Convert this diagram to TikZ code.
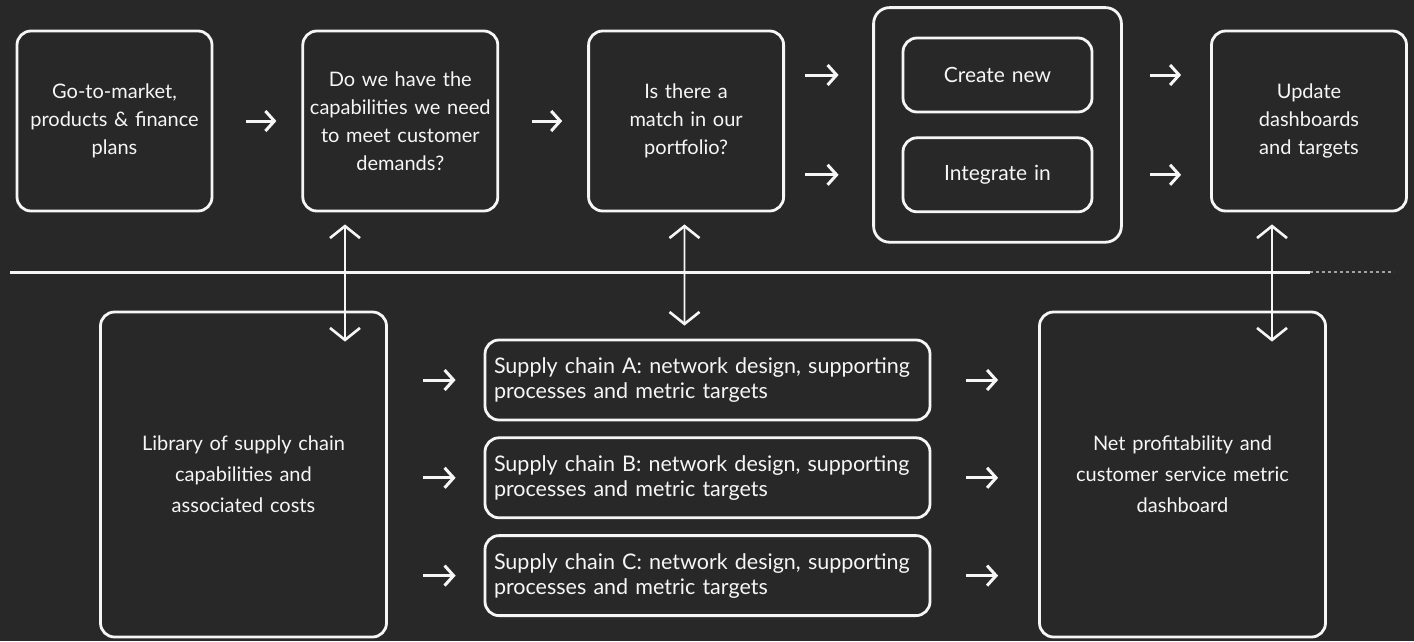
\documentclass[tikz,border=0pt]{standalone}
\usepackage{fontspec}
\setmainfont{Lato}
\usetikzlibrary{arrows.meta,positioning,fit}

\definecolor{board}{RGB}{40,40,40}
\definecolor{chalk}{RGB}{246,246,246}

\begin{document}
\begin{tikzpicture}[x=1pt,y=-1pt,node distance=88pt]
  \tikzstyle{box}=[draw=chalk,line width=2.8pt,rounded corners=14pt,text=chalk,
    align=center,font=\fontsize{20}{28}\selectfont]
  \tikzstyle{topbox}=[box,minimum width=195pt,minimum height=180pt,text width=187pt,inner xsep=4pt]
  \tikzstyle{bigbox}=[box,minimum width=286pt,minimum height=325pt,text width=260pt,
    font=\fontsize{20}{31}\selectfont]
  \tikzstyle{pickbox}=[box,minimum width=189pt,minimum height=74pt,text width=170pt,
    font=\fontsize{21}{28}\selectfont]
  \tikzstyle{chainbox}=[box,minimum height=80pt,text width=427pt,inner xsep=9pt,
    align=left,font=\fontsize{21.5}{25}\selectfont]
  \tikzstyle{chalkarrow}=[draw=chalk,line width=3pt,-{Straight Barb[length=9pt,width=20pt]}]
  \tikzstyle{linkarrow}=[draw=chalk,line width=1.6pt,
    {Straight Barb[length=12pt,width=30pt,line width=2.6pt]}-{Straight Barb[length=12pt,width=30pt,line width=2.6pt]}]

  % chalkboard
  \fill[board] (0,0) rectangle (1414,641);
  \useasboundingbox (0,0) rectangle (1414,641);

  % top row
  \node[topbox] (plans)             at (114.5,121) {Go-to-market,\\products \& finance\\plans};
  \node[topbox] (caps)  [right=of plans] {Do we have the\\capabilities we need\\to meet customer\\demands?};
  \node[topbox] (match) [right=of caps]  {Is there a\\match in our\\portfolio?};

  \node[pickbox] (create)                          at (997.5,75) {Create new};
  \node[pickbox] (integrate) [below=23pt of create]               {Integrate in};
  \node[draw=chalk,line width=2.8pt,rounded corners=16pt,inner xsep=28pt,inner ysep=29pt,
        fit=(create)(integrate)] (choice) {};

  \node[topbox] (update) at (1309,121) {Update\\dashboards\\and targets};

  % separator
  \draw[chalk,line width=3pt] (10,272) -- (1310,272);
  \draw[chalk,line width=1.2pt,dashed,opacity=0.6] (1310,272) -- (1394,272);

  % bottom row
  \node[bigbox] (library) at (243.5,474.5) {Library of supply chain\\capabilities and\\associated costs};
  \node[chainbox] (chainA) at (707.5,380) {Supply chain A: network design, supporting\\processes and metric targets};
  \node[chainbox] (chainB) [below=15pt of chainA] {Supply chain B: network design, supporting\\processes and metric targets};
  \node[chainbox] (chainC) [below=15pt of chainB] {Supply chain C: network design, supporting\\processes and metric targets};
  \node[bigbox] (net) at (1182.5,474.5) {Net profitability and\\customer service metric\\dashboard};

  % flow arrows
  \path (plans) edge[chalkarrow,shorten <=33pt,shorten >=25pt] (caps)
        (caps)  edge[chalkarrow,shorten <=33pt,shorten >=25pt] (match);
  \path (match.east |- create)    edge[chalkarrow,shorten <=20pt,shorten >=63pt] (create.west)
        (match.east |- integrate) edge[chalkarrow,shorten <=20pt,shorten >=63pt] (integrate.west);
  \path (choice.east |- create)    edge[chalkarrow,shorten <=27pt,shorten >=29pt] (update.west |- create)
        (choice.east |- integrate) edge[chalkarrow,shorten <=27pt,shorten >=29pt] (update.west |- integrate);
  \foreach \c in {chainA,chainB,chainC}{
    \path (library.east |- \c) edge[chalkarrow,shorten <=35pt,shorten >=28pt] (\c.west);
    \path (\c.east) edge[chalkarrow,shorten <=35pt,shorten >=40pt] (net.west |- \c);
  }

  % links across the line
  \draw[linkarrow] ([xshift=-55.3pt,yshift=-12pt]caps.south)  -- ([xshift=101.5pt,yshift=-31pt]library.north);
  \draw[linkarrow] ([xshift=-1.6pt,yshift=-12pt]match.south)  -- ([xshift=-23pt,yshift=13pt]chainA.north);
  \draw[linkarrow] ([xshift=-37pt,yshift=-12pt]update.south)  -- ([xshift=89.5pt,yshift=-31pt]net.north);
\end{tikzpicture}
\end{document}
